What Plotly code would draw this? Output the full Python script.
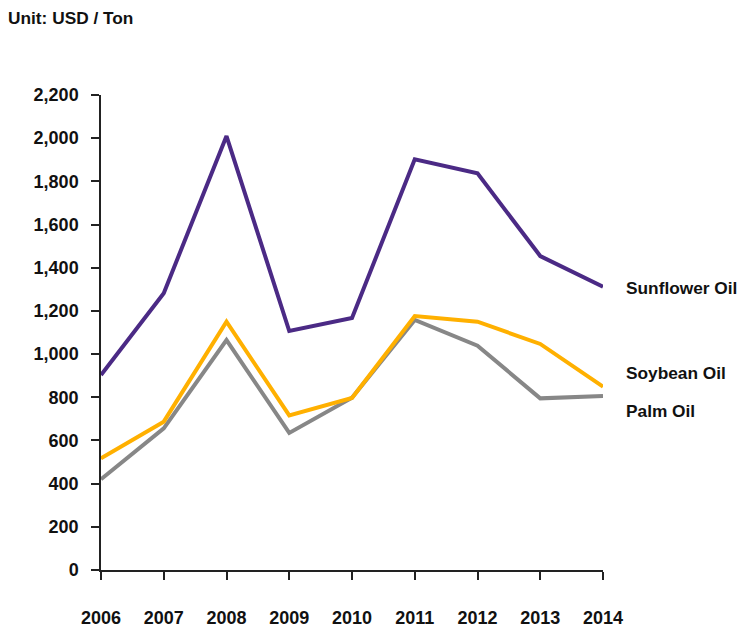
import plotly.graph_objects as go

years = [2006, 2007, 2008, 2009, 2010, 2011, 2012, 2013, 2014]
sunflower = [903, 1282, 2010, 1107, 1167, 1902, 1837, 1454, 1312]
soybean = [517, 687, 1150, 716, 797, 1176, 1150, 1047, 849]
palm = [420, 656, 1065, 635, 798, 1158, 1039, 795, 806]

series = [
    ("Palm Oil", palm, "#878787"),
    ("Soybean Oil", soybean, "#FFB000"),
    ("Sunflower Oil", sunflower, "#4B2A85"),
]
label_y = {"Sunflower Oil": 1306, "Soybean Oil": 912, "Palm Oil": 736}

FAM = "Liberation Sans, Arial, sans-serif"
ann_font = dict(family=FAM, size=17.3, color="#111111")
tick_font = dict(family=FAM, size=18, color="#111111")

fig = go.Figure()
for name, vals, col in series:
    fig.add_trace(go.Scatter(x=years, y=vals, mode="lines", name=name,
                             line=dict(color=col, width=4), showlegend=False,
                             cliponaxis=False))
    fig.add_annotation(x=(624 - 101) / 502, xref="paper", y=label_y[name], yref="y",
                       text="<b>%s</b>" % name, showarrow=False, xanchor="left",
                       yanchor="middle", font=ann_font)

fig.add_annotation(x=(6 - 101) / 502, xref="paper", y=1 + (95 - 18) / 475, yref="paper",
                   text="<b>Unit: USD / Ton</b>", showarrow=False,
                   xanchor="left", yanchor="middle", font=ann_font)

fig.update_layout(
    width=741, height=628,
    margin=dict(l=101, r=138, t=95, b=58, autoexpand=False),
    paper_bgcolor="white", plot_bgcolor="white",
    font=tick_font,
)

fig.update_xaxes(range=[2006, 2014], tickvals=years,
                 ticktext=["<b>%d</b>" % y for y in years],
                 showgrid=False, zeroline=False, showline=True,
                 linecolor="#222222", linewidth=1.5, automargin=False,
                 ticks="outside", ticklen=8, tickwidth=1.5, tickcolor="#222222",
                 ticklabelstandoff=23, tickfont=tick_font)
fig.update_yaxes(range=[0, 2200], tickvals=list(range(0, 2201, 200)),
                 ticktext=["<b>{:,}</b>".format(v) for v in range(0, 2201, 200)],
                 showgrid=False, zeroline=False, showline=True,
                 linecolor="#222222", linewidth=1.5, automargin=False,
                 ticks="outside", ticklen=8, tickwidth=1.5, tickcolor="#222222",
                 ticklabelstandoff=9, tickfont=tick_font)

fig.write_html("out.html", config={"displayModeBar": False},
               post_script="document.body.style.margin='0px';")
